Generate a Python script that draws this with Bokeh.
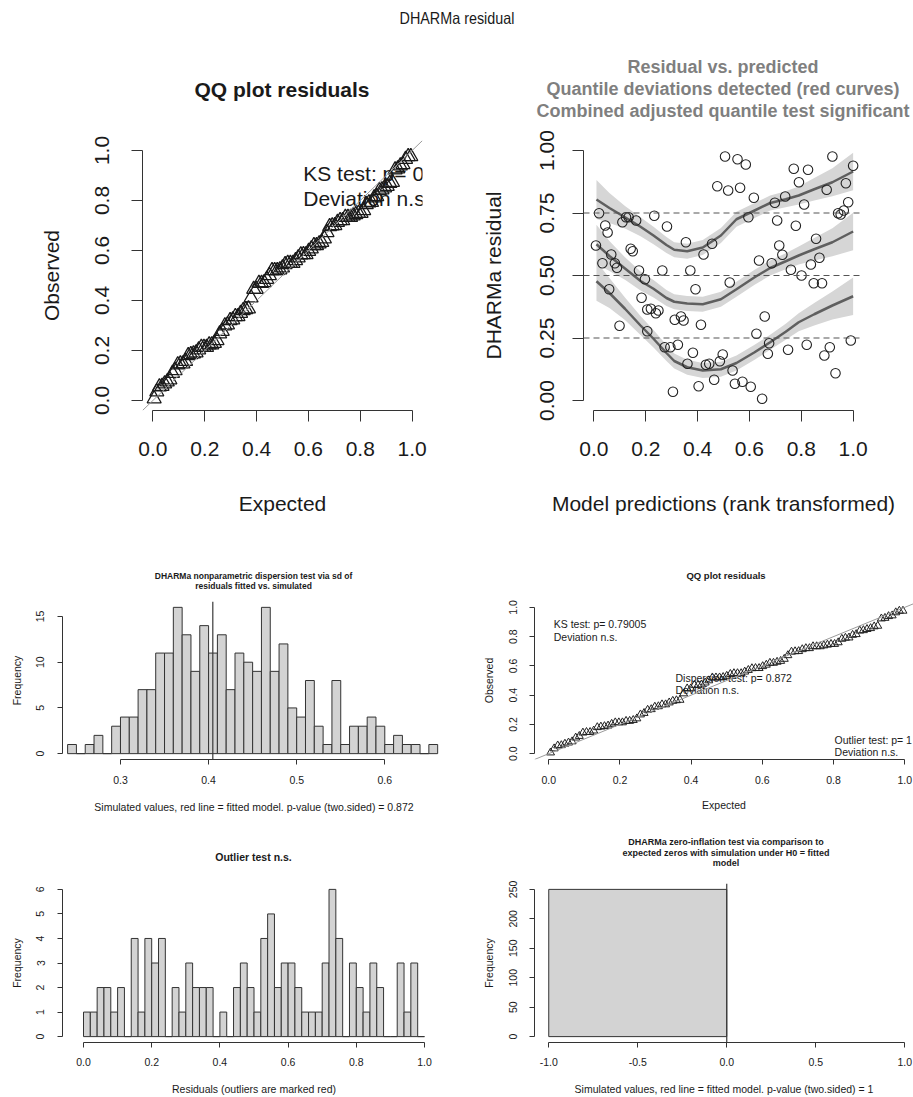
import numpy as np
from bokeh.plotting import figure
from bokeh.models import FixedTicker, PrintfTickFormatter, Span, Slope, Div, Range1d
from bokeh.layouts import column, row
from bokeh.embed import file_html
from bokeh.resources import INLINE
from bokeh.core.properties import value

FONT = "Liberation Sans"
AX = "#333333"
TXT = "#1a1a1a"

# ---------------- data ----------------
pred_rank = [0.02, 0.008, 0.033, 0.044, 0.053, 0.059, 0.067, 0.081, 0.089, 0.099,
             0.11, 0.124, 0.134, 0.142, 0.15, 0.163, 0.174, 0.184, 0.197, 0.206,
             0.206, 0.22, 0.233, 0.239, 0.249, 0.264, 0.273, 0.282, 0.295, 0.305,
             0.312, 0.324, 0.336, 0.346, 0.355, 0.361, 0.372, 0.382, 0.392, 0.404,
             0.413, 0.423, 0.432, 0.445, 0.456, 0.464, 0.476, 0.486, 0.497, 0.506,
             0.518, 0.524, 0.535, 0.544, 0.554, 0.564, 0.573, 0.586, 0.596, 0.605,
             0.617, 0.627, 0.637, 0.649, 0.659, 0.671, 0.676, 0.686, 0.698, 0.707,
             0.715, 0.727, 0.738, 0.749, 0.76, 0.771, 0.779, 0.791, 0.801, 0.811,
             0.821, 0.826, 0.837, 0.848, 0.857, 0.87, 0.88, 0.889, 0.898, 0.91,
             0.92, 0.932, 0.942, 0.952, 0.964, 0.972, 0.981, 0.991, 1.0]
residuals = [0.749, 0.62, 0.549, 0.70, 0.672, 0.445, 0.584, 0.549, 0.531, 0.299,
             0.713, 0.733, 0.733, 0.607, 0.597, 0.72, 0.52, 0.411, 0.485, 0.364,
             0.277, 0.367, 0.739, 0.349, 0.36, 0.52, 0.213, 0.696, 0.213, 0.035,
             0.323, 0.223, 0.336, 0.32, 0.633, 0.147, 0.52, 0.191, 0.445, 0.057,
             0.303, 0.584, 0.143, 0.147, 0.627, 0.083, 0.857, 0.157, 0.184, 0.976,
             0.84, 0.472, 0.12, 0.067, 0.965, 0.851, 0.075, 0.944, 0.733, 0.055,
             0.811, 0.267, 0.56, 0.007, 0.336, 0.187, 0.229, 0.549, 0.791, 0.72,
             0.62, 0.583, 0.816, 0.203, 0.523, 0.927, 0.699, 0.873, 0.50, 0.784,
             0.223, 0.923, 0.544, 0.469, 0.647, 0.571, 0.469, 0.18, 0.843, 0.213,
             0.976, 0.109, 0.749, 0.744, 0.76, 0.869, 0.793, 0.24, 0.939]

curve_x = [0.01, 0.06, 0.12, 0.18, 0.23, 0.28, 0.31, 0.36, 0.42, 0.49, 0.55,
           0.62, 0.68, 0.74, 0.79, 0.85, 0.92, 1.0]
q75_fit = [0.804, 0.77, 0.733, 0.695, 0.66, 0.622, 0.603, 0.597, 0.612, 0.66, 0.725,
           0.76, 0.79, 0.805, 0.82, 0.845, 0.873, 0.916]
q50_fit = [0.625, 0.578, 0.528, 0.478, 0.447, 0.41, 0.395, 0.388, 0.385, 0.405, 0.445,
           0.493, 0.53, 0.557, 0.58, 0.605, 0.633, 0.676]
q25_fit = [0.477, 0.43, 0.367, 0.30, 0.247, 0.19, 0.158, 0.133, 0.12, 0.125, 0.15,
           0.193, 0.233, 0.275, 0.313, 0.345, 0.38, 0.417]
band_halfwidth = [0.078, 0.06, 0.045, 0.038, 0.035, 0.032, 0.03, 0.03, 0.03, 0.03, 0.03,
                  0.03, 0.03, 0.032, 0.036, 0.045, 0.056, 0.075]

disp_first_break = 0.24
disp_bin_width = 0.01
disp_counts = [1, 0, 1, 2, 0, 3, 4, 4, 7, 7, 11, 11, 16, 13, 9, 14, 11, 13, 7, 11,
               10, 9, 16, 9, 12, 5, 4, 8, 3, 1, 8, 1, 3, 3, 4, 3, 1, 2, 1, 1, 0, 1]
disp_observed = 0.4048

outlier_first_break = 0.0
outlier_bin_width = 0.02
outlier_counts = [1, 1, 2, 2, 1, 2, 0, 4, 1, 4, 3, 4, 0, 2, 1, 3, 2, 2, 2, 0,
                  1, 0, 2, 3, 2, 1, 4, 5, 2, 3, 3, 2, 1, 1, 1, 3, 6, 4, 0, 3,
                  2, 1, 3, 2, 0, 0, 3, 1, 3, 0]

zero_breaks = [-1.0, 0.0]
zero_counts = [250]
zero_observed = 0.0

ks_lines = ["KS test: p= 0.79005", "Deviation  n.s."]
disp_lines = ["Dispersion test: p= 0.872", "Deviation  n.s."]
outl_lines = ["Outlier test: p= 1", "Deviation  n.s."]

main_title = "DHARMa residual"
qq_title = "QQ plot residuals"
rvp_title = ["Residual vs. predicted", "Quantile deviations detected (red curves)",
             "Combined adjusted quantile test significant"]
disp_title = ["DHARMa nonparametric dispersion test via sd of", "residuals fitted vs. simulated"]
outlier_title = "Outlier test n.s."
zero_title = ["DHARMa zero-inflation test via comparison to",
              "expected zeros with simulation under H0 = fitted", "model"]


# ---------------- helpers ----------------
def base_fig(w, h, xr, yr, l, r, t, b):
    p = figure(width=w, height=h, x_range=Range1d(*xr), y_range=Range1d(*yr),
               output_backend="svg", toolbar_location=None, title=None,
               min_border_left=l, min_border_right=r, min_border_top=t, min_border_bottom=b)
    p.outline_line_color = None
    p.xgrid.visible = False
    p.ygrid.visible = False
    p.background_fill_color = "white"
    p.border_fill_color = "white"
    return p


def r_axes(p, xticks, yticks, xfmt, yfmt, xlab, ylab, tick_size, lab_size, tick_out,
           x_ls, x_als, y_ls, y_als):
    for ax, ticks, fmt, lab, ls, als in ((p.xaxis[0], xticks, xfmt, xlab, x_ls, x_als),
                                         (p.yaxis[0], yticks, yfmt, ylab, y_ls, y_als)):
        ax.ticker = FixedTicker(ticks=ticks, minor_ticks=[])
        ax.formatter = PrintfTickFormatter(format=fmt)
        ax.bounds = (ticks[0], ticks[-1])
        ax.axis_line_color = AX
        ax.axis_line_width = 1
        ax.major_tick_line_color = AX
        ax.major_tick_out = tick_out
        ax.major_tick_in = 0
        ax.minor_tick_line_color = None
        ax.major_label_text_font = FONT
        ax.major_label_text_font_size = tick_size
        ax.major_label_text_color = TXT
        ax.major_label_standoff = ls
        ax.axis_label = lab
        ax.axis_label_text_font = FONT
        ax.axis_label_text_font_size = lab_size
        ax.axis_label_text_font_style = "normal"
        ax.axis_label_text_color = TXT
        ax.axis_label_standoff = als
    p.yaxis[0].major_label_orientation = "vertical"


def add_text(p, x, ys, lines, size):
    p.text(x=[x] * len(lines), y=ys, text=lines, text_font=value(FONT),
           text_font_size=size, text_align="left", text_baseline="middle", text_color=TXT)


def txt_item(text, cx, cy, size, lh, bold=True, color=TXT, sx=1.0):
    return (f'<div style="position:absolute;left:{cx}px;top:{cy - lh / 2:.1f}px;'
            f'transform:translateX(-50%) scaleX({sx});white-space:nowrap;'
            f'font-size:{size}px;line-height:{lh}px;'
            f'font-weight:{"bold" if bold else "normal"};color:{color};">{text}</div>')


def title_band(h, items):
    html = (f'<div style="position:relative;width:913px;height:{h}px;overflow:hidden;'
            f'font-family:\'Liberation Sans\',Arial,sans-serif;">' + "".join(items) + '</div>')
    return Div(text=html, width=913, height=h, margin=(0, 0, 0, 0))


n = len(residuals)
observed_sorted = np.sort(np.array(residuals))
expected_q = (np.arange(1, n + 1) - 0.5) / n
unit_ticks = [0.0, 0.2, 0.4, 0.6, 0.8, 1.0]

# ---------------- title bands ----------------
band1 = title_band(124, [
    txt_item(main_title, 456.5, 18, 16.5, 20, bold=False, sx=0.87),
    txt_item(qq_title, 282, 90, 21, 24),
    txt_item(rvp_title[0], 723, 67.3, 18, 22, color="#7f7f7f"),
    txt_item(rvp_title[1], 723, 89.3, 18, 22, color="#7f7f7f"),
    txt_item(rvp_title[2], 723, 110.5, 18, 22, color="#7f7f7f"),
])
band2 = title_band(62, [
    txt_item(disp_title[0], 253.5, 45.5, 8.5, 10),
    txt_item(disp_title[1], 253.5, 55.5, 8.5, 10),
    txt_item(qq_title, 726, 45, 9.5, 11),
])
band3 = title_band(55, [
    txt_item(outlier_title, 253.5, 41.7, 10.5, 12),
    txt_item(zero_title[0], 726, 27.3, 9, 11),
    txt_item(zero_title[1], 726, 38.3, 9, 11),
    txt_item(zero_title[2], 726, 48.3, 9, 11),
])

# ---------------- A: big QQ plot ----------------
A = base_fig(456, 406, (-0.04, 1.04), (-0.04, 1.04), 142, 34, 16, 120)
r_axes(A, unit_ticks, unit_ticks, "%.1f", "%.1f", "Expected", "Observed",
       "21px", "21px", 11, 20, 33, 23, 29)
A.add_layout(Slope(gradient=1, y_intercept=0, line_color="#9a9a9a", line_width=1))
A.scatter(expected_q, observed_sorted, marker="triangle", size=14, fill_color=None,
          line_color="#1a1a1a", line_width=1.3)
add_text(A, 0.58, [0.91, 0.81], ks_lines, "21px")

# ---------------- B: residual vs predicted ----------------
B = base_fig(457, 406, (-0.04, 1.04), (-0.04, 1.04), 127, 50, 16, 120)
r_axes(B, unit_ticks, [0.0, 0.25, 0.5, 0.75, 1.0], "%.1f", "%.2f",
       "Model predictions (rank transformed)", "DHARMa residual",
       "21px", "21px", 11, 20, 33, 19, 32)
hw = np.array(band_halfwidth)
for fit in (q75_fit, q50_fit, q25_fit):
    f = np.array(fit)
    B.varea(x=curve_x, y1=f - hw, y2=f + hw, fill_color="#d6d6d6", fill_alpha=1.0)
for fit in (q75_fit, q50_fit, q25_fit):
    B.line(curve_x, fit, line_color="#5f5f5f", line_width=2.5)
for h in (0.25, 0.5, 0.75):
    B.add_layout(Span(location=h, dimension="width", line_color="#555555",
                      line_dash="6 4", line_width=1.2))
B.scatter(pred_rank, residuals, marker="circle", size=9.5, fill_color=None,
          line_color="#222222", line_width=1.1)

# ---------------- C: dispersion histogram ----------------
C = base_fig(456, 223, (0.2342, 0.6689), (-0.64, 16.64), 62, 11, 9, 55)
r_axes(C, [0.3, 0.4, 0.5, 0.6], [0, 5, 10, 15], "%.1f", "%d",
       "Simulated values, red line = fitted model. p-value (two.sided) = 0.872", "Frequency",
       "10.5px", "10.5px", 5, 11, 14, 13, 11)
d_left = disp_first_break + disp_bin_width * np.arange(len(disp_counts))
C.quad(left=d_left, right=d_left + disp_bin_width, bottom=0, top=disp_counts,
       fill_color="#d3d3d3", line_color="#333333", line_width=1)
C.add_layout(Span(location=disp_observed, dimension="height", line_color="#3a3a3a",
                  line_width=1.2))

# ---------------- D: small QQ plot ----------------
D = base_fig(457, 223, (-0.04, 1.0246), (-0.04, 1.04), 78, 0, 9, 55)
r_axes(D, unit_ticks, unit_ticks, "%.1f", "%.1f", "Expected", "Observed",
       "10.5px", "10.5px", 5, 11, 12, 12, 12)
D.add_layout(Slope(gradient=1, y_intercept=0, line_color="#9a9a9a", line_width=1))
D.scatter(expected_q, observed_sorted, marker="triangle", size=8, fill_color=None,
          line_color="#222222", line_width=1)
add_text(D, 0.014, [0.885, 0.797], ks_lines, "10.5px")
add_text(D, 0.356, [0.52, 0.432], disp_lines, "10.5px")
add_text(D, 0.803, [0.095, 0.012], outl_lines, "10.5px")

# ---------------- E: outlier histogram ----------------
E = base_fig(456, 227, (-0.0616, 1.0616), (-0.24, 6.24), 62, 11, 13, 54)
r_axes(E, unit_ticks, [0, 1, 2, 3, 4, 5, 6], "%.1f", "%d",
       "Residuals (outliers are marked red)", "Frequency",
       "10.5px", "10.5px", 5, 10, 14, 13, 11)
o_left = outlier_first_break + outlier_bin_width * np.arange(len(outlier_counts))
E.quad(left=o_left, right=o_left + outlier_bin_width, bottom=0, top=outlier_counts,
       fill_color="#d3d3d3", line_color="#333333", line_width=1)

# ---------------- F: zero-inflation ----------------
F = base_fig(457, 227, (-1.08, 1.0492), (-10.0, 260.0), 78, 0, 13, 54)
r_axes(F, [-1.0, -0.5, 0.0, 0.5, 1.0], [0, 50, 100, 150, 200, 250], "%.1f", "%d",
       "Simulated values, red line = fitted model. p-value (two.sided) = 1", "Frequency",
       "10.5px", "10.5px", 5, 10, 14, 12, 12)
F.quad(left=zero_breaks[:-1], right=zero_breaks[1:], bottom=0, top=zero_counts,
       fill_color="#d3d3d3", line_color="#333333", line_width=1)
F.add_layout(Span(location=zero_observed, dimension="height", line_color="#3a3a3a",
                  line_width=1.2))

layout = column(band1, row(A, B), band2, row(C, D), band3, row(E, F))
open("out.html", "w").write(file_html(layout, INLINE))
